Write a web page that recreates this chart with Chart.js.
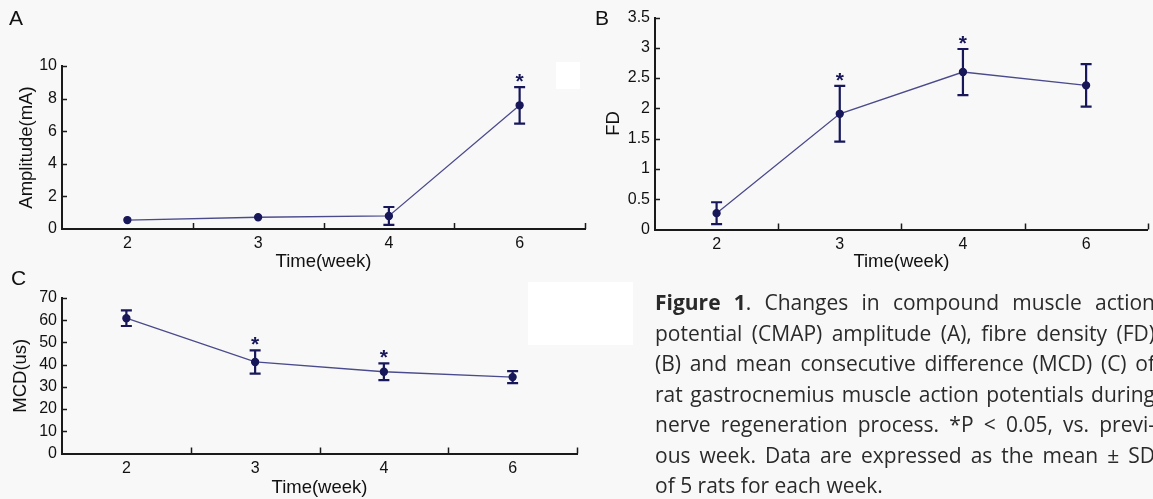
<!DOCTYPE html>
<html>
<head>
<meta charset="utf-8">
<script src="https://cdn.jsdelivr.net/npm/chart.js@4"></script>
<style>
  body { margin: 0; width: 1153px; height: 499px; overflow: hidden; background: #f8f8f8; position: relative; font-family: "Liberation Sans", Arial, sans-serif; }
  canvas { position: absolute; left: 0; top: 0; }
  .patch { position: absolute; background: #ffffff; }
  .letter { position: absolute; font-size: 21px; line-height: 21px; color: #111; }
  #caption { position: absolute; left: 655px; top: 287px; width: 500px; font-family: "Open Sans", sans-serif; font-size: 21px; line-height: 30.5px; color: #2a2a2a; }
  #caption div { text-align: justify; text-align-last: justify; white-space: nowrap; }
  #caption div.last { text-align-last: left; }
</style>
</head>
<body>
<div class="patch" style="left:528px; top:282px; width:105px; height:63px"></div>
<div class="patch" style="left:556px; top:62px; width:24px; height:27px"></div>
<canvas id="chartA" width="1153" height="499"></canvas>
<canvas id="chartB" width="1153" height="499"></canvas>
<canvas id="chartC" width="1153" height="499"></canvas>
<div class="letter" style="left:9px; top:7px">A</div>
<div class="letter" style="left:595px; top:7px">B</div>
<div class="letter" style="left:11px; top:267px">C</div>
<div id="caption">
  <div><b>Figure 1</b>. Changes in compound muscle action</div>
  <div>potential (CMAP) amplitude (A), fibre density (FD)</div>
  <div>(B) and mean consecutive difference (MCD) (C) of</div>
  <div>rat gastrocnemius muscle action potentials during</div>
  <div>nerve regeneration process. *P &lt; 0.05, vs. previ-</div>
  <div>ous week. Data are expressed as the mean ± SD</div>
  <div class="last">of 5 rats for each week.</div>
</div>
<script>
const weeks = ['2', '3', '4', '6'];

const ampMean = [0.55, 0.72, 0.80, 7.59];
const ampSD = [0, 0, 0.55, 1.12];
const ampStar = [false, false, false, true];

const fdMean = [0.27, 1.91, 2.60, 2.38];
const fdSD = [0.18, 0.46, 0.38, 0.35];
const fdStar = [false, true, true, false];

const mcdMean = [60.9, 41.2, 36.8, 34.4];
const mcdSD = [3.5, 5.2, 3.8, 2.7];
const mcdStar = [false, true, true, false];

const axisColor = '#1a1a1a';
const markColor = '#17175a';
const lineColor = '#4a4a8c';
const tickFont = { family: '"Liberation Sans", Arial, sans-serif', size: 16 };
const titleFont = { family: '"Liberation Sans", Arial, sans-serif', size: 18.5 };

// error bars, stars and the inward tick marks
const extrasPlugin = {
  id: 'extras',
  afterDatasetsDraw(chart) {
    const ctx = chart.ctx;
    const xs = chart.scales.x;
    const ys = chart.scales.y;
    const area = chart.chartArea;
    const opts = chart.options.plugins.extras;

    ctx.save();
    ctx.strokeStyle = axisColor;
    ctx.lineWidth = 1.5;
    ys.ticks.forEach((t) => {
      if (t.value === ys.min) return;
      const y = Math.round(ys.getPixelForValue(t.value)) + 0.5;
      ctx.beginPath();
      ctx.moveTo(area.left, y);
      ctx.lineTo(area.left + 5, y);
      ctx.stroke();
    });
    [1.5, 2.5, 3.5, 4.5].forEach((v) => {
      const x = Math.round(xs.getPixelForValue(v)) + 0.5;
      ctx.beginPath();
      ctx.moveTo(x, area.bottom);
      ctx.lineTo(x, area.bottom - 6);
      ctx.stroke();
    });

    ctx.strokeStyle = markColor;
    ctx.fillStyle = markColor;
    ctx.lineWidth = 2.2;
    opts.mean.forEach((m, i) => {
      const x = xs.getPixelForValue(i + 1);
      const sd = opts.sd[i];
      const yTop = ys.getPixelForValue(m + sd);
      if (sd > 0) {
        const yBot = ys.getPixelForValue(m - sd);
        ctx.beginPath();
        ctx.moveTo(x, yTop);
        ctx.lineTo(x, yBot);
        ctx.moveTo(x - 5.5, yTop);
        ctx.lineTo(x + 5.5, yTop);
        ctx.moveTo(x - 5.5, yBot);
        ctx.lineTo(x + 5.5, yBot);
        ctx.stroke();
      }
      if (opts.star[i]) {
        ctx.font = 'bold 21px "Liberation Sans", Arial, sans-serif';
        ctx.textAlign = 'center';
        ctx.textBaseline = 'alphabetic';
        ctx.fillText('*', x, yTop + 1);
      }
    });
    ctx.restore();
  }
};

function makeChart(id, mean, sd, star, yOpts, box) {
  const points = mean.map((v, i) => ({ x: i + 1, y: v }));
  return new Chart(document.getElementById(id), {
    type: 'line',
    data: {
      datasets: [{
        data: points,
        borderColor: lineColor,
        borderWidth: 1.3,
        pointRadius: 3.5,
        pointBackgroundColor: markColor,
        pointBorderColor: markColor,
        tension: 0,
      }],
    },
    options: {
      responsive: false,
      animation: false,
      layout: { padding: box.padding },
      plugins: {
        legend: { display: false },
        tooltip: { enabled: false },
        extras: { mean: mean, sd: sd, star: star },
      },
      scales: {
        x: {
          type: 'linear',
          min: 0.5,
          max: 4.5,
          afterBuildTicks: (scale) => { scale.ticks = [1, 2, 3, 4].map((v) => ({ value: v })); },
          afterFit: (scale) => { scale.height = box.xHeight; },
          grid: { display: false, drawTicks: false },
          border: { display: true, color: axisColor, width: 2 },
          ticks: { color: '#111', font: tickFont, padding: 5, maxRotation: 0, callback: (v) => weeks[v - 1] },
          title: { display: true, text: 'Time(week)', color: '#111', font: titleFont, padding: 0 },
        },
        y: {
          min: yOpts.min,
          max: yOpts.max,
          afterFit: (scale) => { scale.width = box.yWidth; },
          grid: { display: false, drawTicks: false },
          border: { display: true, color: axisColor, width: 2 },
          ticks: { stepSize: yOpts.step, color: '#111', font: tickFont, padding: 5, callback: (v) => String(+v.toFixed(2)) },
          title: { display: true, text: yOpts.title, color: '#111', font: titleFont, padding: { top: box.yTitlePad, bottom: 0 } },
        },
      },
    },
    plugins: [extrasPlugin],
  });
}

makeChart('chartA', ampMean, ampSD, ampStar,
  { min: 0, max: 10, step: 2, title: 'Amplitude(mA)' },
  { padding: { left: 0, top: 66, right: 1153 - 585, bottom: 499 - 229 - 44 }, xHeight: 44, yWidth: 62, yTitlePad: 16 });

makeChart('chartB', fdMean, fdSD, fdStar,
  { min: 0, max: 3.5, step: 0.5, title: 'FD' },
  { padding: { left: 595, top: 17.5, right: 2, bottom: 499 - 229.5 - 43.5 }, xHeight: 43.5, yWidth: 60, yTitlePad: 8 });

makeChart('chartC', mcdMean, mcdSD, mcdStar,
  { min: 0, max: 70, step: 10, title: 'MCD(us)' },
  { padding: { left: 0, top: 298, right: 1153 - 577, bottom: 499 - 453.5 - 45.5 }, xHeight: 45.5, yWidth: 62, yTitlePad: 10 });
</script>
</body>
</html>
